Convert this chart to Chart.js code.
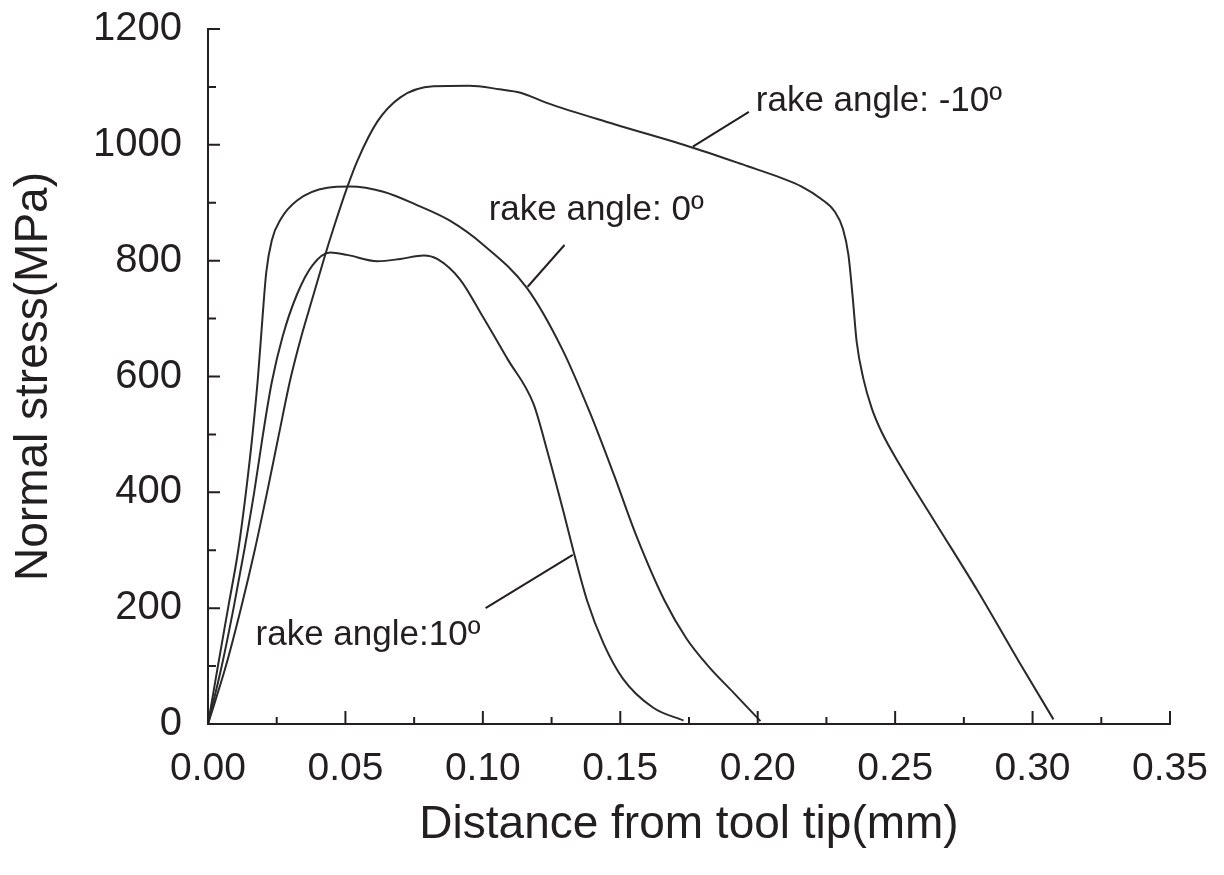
<!DOCTYPE html>
<html>
<head>
<meta charset="utf-8">
<script src="https://cdn.jsdelivr.net/npm/chart.js@4"></script>
<style>
  html, body { margin: 0; padding: 0; background: #fff; }
  #wrap { width: 1224px; height: 875px; }
</style>
</head>
<body>
<div id="wrap"><canvas id="stressChart" width="1224" height="875"></canvas></div>
<script>
// curve data (distance in mm, stress in MPa)
const negTenX = [0, 0.0065, 0.012, 0.017, 0.0215, 0.0258, 0.0299, 0.034, 0.038, 0.042, 0.0456, 0.0506, 0.0543, 0.0616, 0.070, 0.082, 0.095, 0.106, 0.1137, 0.1235, 0.1476, 0.1764, 0.1964, 0.2085, 0.216, 0.223, 0.228, 0.231, 0.233, 0.2345, 0.236, 0.2385, 0.2415, 0.245, 0.252, 0.265, 0.280, 0.295, 0.3076];
const negTenY = [0, 100, 200, 300, 400, 500, 594, 670, 735, 800, 855, 926, 972, 1040, 1082, 1101, 1102, 1096, 1090, 1072, 1036, 995, 963, 943, 928, 907, 885, 855, 810, 740, 660, 595, 545, 505, 445, 345, 230, 108, 8];

const zeroX = [0, 0.0036, 0.0073, 0.011, 0.0138, 0.0162, 0.0182, 0.0198, 0.0212, 0.0232, 0.0265, 0.0324, 0.0434, 0.0517, 0.0638, 0.076, 0.088, 0.100, 0.116, 0.129, 0.139, 0.1477, 0.156, 0.166, 0.174, 0.182, 0.191, 0.201];
const zeroY = [0, 100, 200, 300, 400, 500, 600, 700, 780, 835, 872, 904, 926, 928, 919, 896, 869, 828, 753, 646, 537, 430, 323, 214, 148, 100, 55, 5];

const tenX = [0, 0.005, 0.0093, 0.0132, 0.0168, 0.0200, 0.0232, 0.0272, 0.0324, 0.038, 0.0445, 0.0506, 0.0616, 0.070, 0.0785, 0.0834, 0.0918, 0.100, 0.109, 0.1184, 0.1235, 0.1294, 0.133, 0.138, 0.144, 0.151, 0.162, 0.173];
const tenY = [0, 100, 200, 300, 400, 500, 590, 670, 742, 792, 814, 810, 799, 803, 809, 803, 767, 703, 630, 553, 470, 365, 298, 212, 138, 78, 28, 6];

const seriesNames = ['rake angle: -10º', 'rake angle: 0º', 'rake angle:10º'];

// axis ticks
const xTickValues = [0, 0.05, 0.10, 0.15, 0.20, 0.25, 0.30, 0.35];
const xTickLabels = ['0.00', '0.05', '0.10', '0.15', '0.20', '0.25', '0.30', '0.35'];
const xMinorValues = [0.025, 0.075, 0.125, 0.175, 0.225, 0.275, 0.325];
const yTickValues = [0, 200, 400, 600, 800, 1000, 1200];
const yTickLabels = ['0', '200', '400', '600', '800', '1000', '1200'];
const yMinorValues = [100, 300, 500, 700, 900, 1100];

const ink = '#231f20';
const fontFam = '"Liberation Sans", Arial, Helvetica, sans-serif';

// labels with leader lines, in data units
const callouts = [
    { text: seriesNames[0], tx: 0.1993, ty: 1059, from: [0.1764, 997], to: [0.1968, 1057] },
    { text: seriesNames[1], tx: 0.1021, ty: 870, from: [0.1163, 755], to: [0.1297, 827] },
    { text: seriesNames[2], tx: 0.0173, ty: 136, from: [0.1327, 292], to: [0.101, 200] }
];

function toPoints(xs, ys) {
    return xs.map((x, i) => ({ x: x, y: ys[i] }));
}

// ticks pointing inside the plot, as in the original figure
const innerTicks = {
    id: 'innerTicks',
    afterDatasetsDraw(chart) {
        const ctx = chart.ctx;
        const xs = chart.scales.x, ys = chart.scales.y;
        ctx.save();
        ctx.strokeStyle = ink;
        ctx.lineWidth = 2;
        ctx.beginPath();
        xTickValues.forEach(v => {
            const px = xs.getPixelForValue(v);
            ctx.moveTo(px, ys.bottom); ctx.lineTo(px, ys.bottom - 13);
        });
        xMinorValues.forEach(v => {
            const px = xs.getPixelForValue(v);
            ctx.moveTo(px, ys.bottom); ctx.lineTo(px, ys.bottom - 7);
        });
        yTickValues.forEach(v => {
            const py = ys.getPixelForValue(v);
            ctx.moveTo(xs.left, py); ctx.lineTo(xs.left + 12, py);
        });
        yMinorValues.forEach(v => {
            const py = ys.getPixelForValue(v);
            ctx.moveTo(xs.left, py); ctx.lineTo(xs.left + 8, py);
        });
        ctx.stroke();

        // callout labels
        ctx.fillStyle = ink;
        ctx.font = '35px ' + fontFam;
        ctx.textBaseline = 'alphabetic';
        ctx.textAlign = 'left';
        callouts.forEach(c => {
            ctx.beginPath();
            ctx.moveTo(xs.getPixelForValue(c.from[0]), ys.getPixelForValue(c.from[1]));
            ctx.lineTo(xs.getPixelForValue(c.to[0]), ys.getPixelForValue(c.to[1]));
            ctx.stroke();
            ctx.fillText(c.text, xs.getPixelForValue(c.tx), ys.getPixelForValue(c.ty));
        });
        ctx.restore();
    }
};

function lineSet(label, xs, ys) {
    return {
        label: label,
        data: toPoints(xs, ys),
        borderColor: '#2a2a2a',
        borderWidth: 2,
        pointRadius: 0,
        fill: false,
        cubicInterpolationMode: 'monotone'
    };
}

const ctx = document.getElementById('stressChart').getContext('2d');
new Chart(ctx, {
    type: 'line',
    data: {
        datasets: [
            lineSet(seriesNames[0], negTenX, negTenY),
            lineSet(seriesNames[1], zeroX, zeroY),
            lineSet(seriesNames[2], tenX, tenY)
        ]
    },
    options: {
        responsive: false,
        animation: false,
        layout: { padding: { top: 29, right: 54, left: 0, bottom: 0 } },
        plugins: { legend: { display: false }, tooltip: { enabled: false } },
        scales: {
            x: {
                type: 'linear',
                min: 0,
                max: 0.35,
                afterBuildTicks: s => { s.ticks = xTickValues.map(v => ({ value: v })); },
                afterFit: s => { s.height = 151; s.paddingLeft = 0; s.paddingRight = 0; },
                ticks: {
                    callback: (v, i) => xTickLabels[i],
                    color: ink,
                    font: { family: fontFam, size: 39 },
                    padding: 14,
                    maxRotation: 0,
                    autoSkip: false
                },
                grid: { display: false },
                border: { display: true, color: ink, width: 2 },
                title: {
                    display: true,
                    text: 'Distance from tool tip(mm)',
                    color: ink,
                    font: { family: fontFam, size: 46 },
                    padding: { top: 0, bottom: 22 }
                }
            },
            y: {
                type: 'linear',
                min: 0,
                max: 1200,
                afterBuildTicks: s => { s.ticks = yTickValues.map(v => ({ value: v })); },
                afterFit: s => { s.width = 208; s.paddingTop = 0; s.paddingBottom = 0; },
                ticks: {
                    callback: (v, i) => yTickLabels[i],
                    color: ink,
                    font: { family: fontFam, size: 40 },
                    padding: 18,
                    autoSkip: false
                },
                grid: { display: false },
                border: { display: true, color: ink, width: 2 },
                title: {
                    display: true,
                    text: 'Normal stress(MPa)',
                    color: ink,
                    font: { family: fontFam, size: 46 },
                    padding: { top: 7, bottom: 0 }
                }
            }
        }
    },
    plugins: [innerTicks]
});
</script>
</body>
</html>
